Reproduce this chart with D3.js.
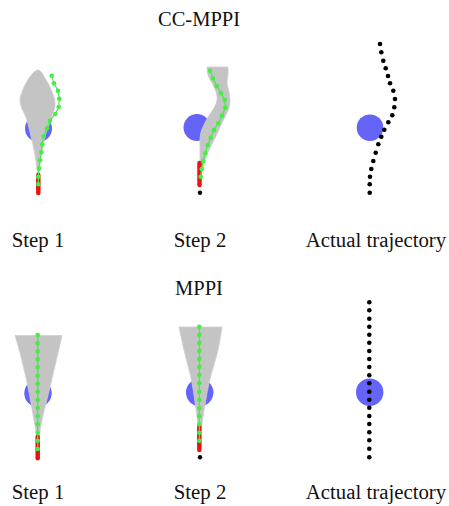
<!DOCTYPE html>
<html>
<head>
<meta charset="utf-8">
<script src="https://cdn.jsdelivr.net/npm/d3@7"></script>
<style>
  body { margin: 0; background: #fff; }
</style>
</head>
<body>
<svg id="fig"></svg>
<script>
// labels
var rowTitles = ["CC-MPPI", "MPPI"];
var colLabels = ["Step 1", "Step 2", "Actual trajectory"];

// --- CC-MPPI row (x = offset from panel axis, y = distance from row top) ---
var ccStep1Obstacle = [0.5, 128.5, 13.5];
var ccStep1Red = [[0.3, 175], [0.3, 193]];
var ccStep1GreenX = [13.7, 16, 20, 21.3, 20.7, 17.3, 12, 9, 5.7, 4.3, 3.3, 2, 1, 0.3, 0.3];
var ccStep1GreenY = [75.7, 83.3, 90.7, 98.7, 107, 114, 120.7, 128.3, 136.3, 144.3, 152.3, 160.3, 168.3, 176.7, 184.3];
var ccStep1EnvY = [70, 73, 78, 85, 92, 99, 106, 113, 120, 128, 136, 145, 155, 165, 175];
var ccStep1EnvL = [-1, -5, -9, -13, -16, -18, -17, -14, -11, -9, -7, -5, -3, -1.5, -0.5];
var ccStep1EnvR = [1, 4, 7, 11, 14, 16.5, 17, 15, 13, 10, 7, 5, 3, 2, 1];

var ccStep2Obstacle = [-3, 127.5, 13.5];
var ccStep2Red = [[-0.5, 163], [-0.5, 185]];
var ccStep2Start = [0, 192.7];
var ccStep2GreenX = [10, 13, 16.7, 21, 24.7, 25.3, 22, 18.3, 14, 10.7, 7.7, 5.3, 3.3, 1.7, 0.7];
var ccStep2GreenY = [70.7, 78.3, 86, 93.3, 100, 107.7, 115.7, 123.3, 130, 137.7, 145.3, 153.3, 161, 169, 176.7];
var ccStep2EnvY = [67, 75, 83, 92, 100, 108, 117, 125, 132, 140, 150, 160, 173];
var ccStep2EnvL = [7, 8, 12, 16, 17, 14, 8, 4, 1, 0, 0, 0, 0];
var ccStep2EnvR = [28, 28, 27, 29, 30, 29, 25, 21, 18, 14, 9, 5, 2];

var ccActualObstacle = [0, 127.7, 13.3];
var ccActualX = [10, 11.3, 13.3, 15.7, 18, 20, 23.3, 25, 24.3, 22.3, 18.3, 14.3, 11.3, 8.3, 5.7, 3.3, 1.3, 0, -0.3, -0.3];
var ccActualY = [44, 52.3, 60.7, 68.3, 76, 83.3, 90.7, 99, 107.3, 115.3, 122.3, 129.7, 136.7, 144.3, 152.7, 161, 169, 176.7, 184.3, 192.7];

// --- MPPI row ---
var mpStep1Obstacle = [0, 143.3, 13.7];
var mpStep1Red = [[-0.3, 186.7], [-0.3, 208.3]];
var mpStep1GreenX = [-0.3, -0.3, -0.3, -0.3, -0.3, -0.3, -0.3, -0.3, -0.3, -0.3, -0.3, -0.3, -0.3, -0.3, -0.3];
var mpStep1GreenY = [85, 93.3, 101.3, 109.3, 117.3, 125.7, 133.7, 141.7, 150, 158, 166.3, 174.3, 182.7, 190.7, 199];
var mpStep1EnvY = [85.5, 103, 137, 170, 187];
var mpStep1EnvL = [-23, -18, -10, -4, -1];
var mpStep1EnvR = [24, 20, 12, 4, 1];

var mpStep2Obstacle = [-0.3, 142.5, 13.7];
var mpStep2Red = [[-0.7, 176.7], [-0.7, 200]];
var mpStep2Start = [0, 207.3];
var mpStep2GreenX = [-0.7, -0.7, -0.7, -0.7, -0.7, -0.7, -0.7, -0.7, -0.7, -0.7, -0.7, -0.7, -0.7, -0.7, -0.7];
var mpStep2GreenY = [76.7, 84.7, 92.7, 100.7, 108.7, 116.7, 125, 133.3, 141.7, 150, 158.3, 166.3, 174.3, 182.7, 190.7];
var mpStep2EnvY = [77, 100, 133, 167, 187];
var mpStep2EnvL = [-21, -16, -8, -3, -1];
var mpStep2EnvR = [22, 18, 9, 3, 0];

var mpActualObstacle = [-0.3, 142.3, 13.7];
var mpActualX = [-0.7, -0.7, -0.7, -0.7, -0.7, -0.7, -0.7, -0.7, -0.7, -0.7, -0.7, -0.7, -0.7, -0.7, -0.7, -0.7, -0.7, -0.7, -0.7, -0.7];
var mpActualY = [52.3, 60.3, 68.7, 76.7, 84.7, 92.7, 101, 109, 117, 125.3, 133.3, 141.7, 149.7, 157.7, 166, 174, 182.3, 190.3, 198.7, 207.3];

var width = 449, height = 506;
var colCenters = [38, 200, 370];
var rowTops = [0, 250];
var titleY = [26, 295];
var labelY = [246.5, 499];
var serif = "'Liberation Serif', 'Times New Roman', Times, 'DejaVu Serif', serif";

var svg = d3.select("#fig")
    .attr("width", width)
    .attr("height", height);

svg.append("rect").attr("width", width).attr("height", height).attr("fill", "#fff");

function zip(xs, ys) {
    return xs.map(function(v, i) { return [v, ys[i]]; });
}
function env(ys, ls, rs) {
    return ys.map(function(v, i) { return {y: v, l: ls[i], r: rs[i]}; });
}

var panels = [
    {row: 0, col: 0, obstacle: ccStep1Obstacle, env: env(ccStep1EnvY, ccStep1EnvL, ccStep1EnvR),
     red: ccStep1Red, green: zip(ccStep1GreenX, ccStep1GreenY)},
    {row: 0, col: 1, obstacle: ccStep2Obstacle, env: env(ccStep2EnvY, ccStep2EnvL, ccStep2EnvR),
     red: ccStep2Red, green: zip(ccStep2GreenX, ccStep2GreenY), start: ccStep2Start},
    {row: 0, col: 2, obstacle: ccActualObstacle, actual: zip(ccActualX, ccActualY)},
    {row: 1, col: 0, obstacle: mpStep1Obstacle, env: env(mpStep1EnvY, mpStep1EnvL, mpStep1EnvR),
     red: mpStep1Red, green: zip(mpStep1GreenX, mpStep1GreenY)},
    {row: 1, col: 1, obstacle: mpStep2Obstacle, env: env(mpStep2EnvY, mpStep2EnvL, mpStep2EnvR),
     red: mpStep2Red, green: zip(mpStep2GreenX, mpStep2GreenY), start: mpStep2Start},
    {row: 1, col: 2, obstacle: mpActualObstacle, actual: zip(mpActualX, mpActualY)}
];

panels.forEach(function(p) {
    var cx = colCenters[p.col], top = rowTops[p.row];
    var x = d3.scaleLinear().domain([-60, 60]).range([cx - 60, cx + 60]);
    var y = d3.scaleLinear().domain([0, 250]).range([top, top + 250]);
    var r = d3.scaleLinear().domain([0, 1]).range([0, 1]);
    var g = svg.append("g");

    // obstacle
    g.append("circle")
        .attr("cx", x(p.obstacle[0]))
        .attr("cy", y(p.obstacle[1]))
        .attr("r", r(p.obstacle[2]))
        .attr("fill", "#6464f8");

    // sampled rollouts (envelope of grey trajectories)
    if (p.env) {
        var area = d3.area()
            .y(function(d) { return y(d.y); })
            .x0(function(d) { return x(d.l); })
            .x1(function(d) { return x(d.r); })
            .curve(d3.curveCatmullRom);
        g.append("path")
            .datum(p.env)
            .attr("d", area)
            .attr("fill", "#c4c4c4")
            .attr("stroke", "#cfcfcf")
            .attr("stroke-width", 0.8);
    }

    // executed part (red)
    if (p.red) {
        g.append("line")
            .attr("x1", x(p.red[0][0])).attr("y1", y(p.red[0][1]))
            .attr("x2", x(p.red[1][0])).attr("y2", y(p.red[1][1]))
            .attr("stroke", "#ee1111")
            .attr("stroke-width", 4.5)
            .attr("stroke-linecap", "round");
    }

    // optimal trajectory (green)
    if (p.green) {
        var line = d3.line()
            .x(function(d) { return x(d[0]); })
            .y(function(d) { return y(d[1]); });
        g.append("path")
            .datum(p.green)
            .attr("d", line)
            .attr("fill", "none")
            .attr("stroke", "#44ee44")
            .attr("stroke-width", 1.2);
        g.selectAll(".gdot")
            .data(p.green)
            .enter().append("circle")
            .attr("class", "gdot")
            .attr("cx", function(d) { return x(d[0]); })
            .attr("cy", function(d) { return y(d[1]); })
            .attr("r", 2.3)
            .attr("fill", "#44ee44");
    }

    if (p.start) {
        g.append("circle")
            .attr("cx", x(p.start[0]))
            .attr("cy", y(p.start[1]))
            .attr("r", 2.2)
            .attr("fill", "#000");
    }

    // actual trajectory (black dots)
    if (p.actual) {
        g.selectAll(".bdot")
            .data(p.actual)
            .enter().append("circle")
            .attr("class", "bdot")
            .attr("cx", function(d) { return x(d[0]); })
            .attr("cy", function(d) { return y(d[1]); })
            .attr("r", 2.3)
            .attr("fill", "#000");
    }
});

rowTitles.forEach(function(t, i) {
    svg.append("text")
        .attr("x", colCenters[1] - 1)
        .attr("y", titleY[i])
        .attr("text-anchor", "middle")
        .attr("font-family", serif)
        .attr("font-size", 20.5)
        .attr("fill", "#111")
        .text(t);

    colLabels.forEach(function(l, j) {
        svg.append("text")
            .attr("x", j === 2 ? 376 : colCenters[j])
            .attr("y", labelY[i])
            .attr("text-anchor", "middle")
            .attr("font-family", serif)
            .attr("font-size", 20.8)
            .attr("fill", "#111")
            .text(l);
    });
});
</script>
</body>
</html>
